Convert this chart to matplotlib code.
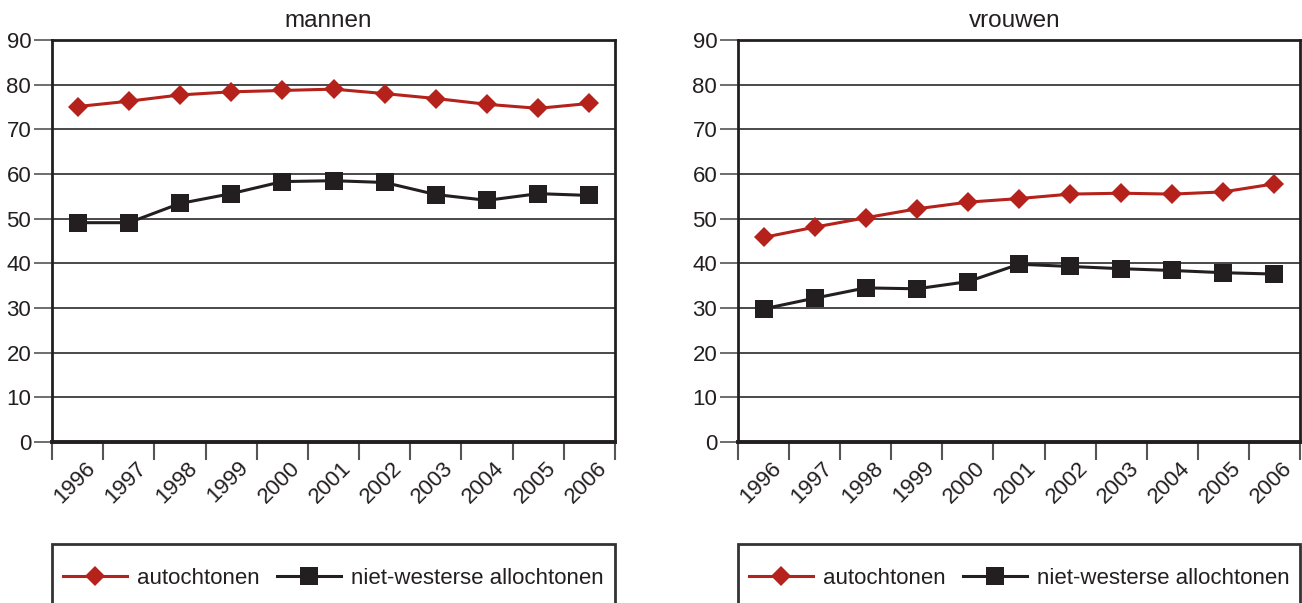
import matplotlib
matplotlib.use("Agg")
import matplotlib.pyplot as plt
from matplotlib.patches import Rectangle
import matplotlib.transforms as mtransforms

plt.rcParams['font.family'] = ['Liberation Sans', 'DejaVu Sans']

years = ['1996', '1997', '1998', '1999', '2000', '2001', '2002', '2003', '2004', '2005', '2006']
mannen_autochtonen = [75.1, 76.3, 77.7, 78.4, 78.7, 79.0, 78.0, 76.9, 75.6, 74.7, 75.8]
mannen_nietwesters = [49.1, 49.1, 53.4, 55.6, 58.3, 58.5, 58.1, 55.4, 54.1, 55.6, 55.2]
vrouwen_autochtonen = [45.8, 48.1, 50.2, 52.2, 53.7, 54.5, 55.5, 55.7, 55.5, 56.0, 57.8]
vrouwen_nietwesters = [29.8, 32.2, 34.5, 34.3, 35.9, 39.8, 39.3, 38.8, 38.4, 37.9, 37.6]
titles = ['mannen', 'vrouwen']
series_names = ['autochtonen', 'niet-westerse allochtonen']
yticks = [0, 10, 20, 30, 40, 50, 60, 70, 80, 90]

W, H = 1302, 603
DPI = 100
fig = plt.figure(figsize=(W / DPI, H / DPI), dpi=DPI)

RED = '#b5211b'
BLACK = '#231f20'
GRID = '#3a3a3a'

panels = [
    (titles[0], mannen_autochtonen, mannen_nietwesters, 52, 615, 328),
    (titles[1], vrouwen_autochtonen, vrouwen_nietwesters, 738, 1300, 1015),
]
top_px, bot_px = 40, 442

for title, auto, niet, lx, rx, tx in panels:
    ax = fig.add_axes([lx / W, (H - bot_px) / H, (rx - lx) / W, (bot_px - top_px) / H])
    n = len(years)
    xs = list(range(n))
    ax.set_xlim(-0.5, n - 0.5)
    ax.set_ylim(0, 90)
    for v in yticks[1:-1]:
        ax.axhline(v, color=GRID, lw=1.3, zorder=1)
    la, = ax.plot(xs, auto, color=RED, lw=2.2, marker='D', markersize=10,
                  markeredgewidth=0, zorder=3, label=series_names[0])
    ln, = ax.plot(xs, niet, color=BLACK, lw=2.2, marker='s', markersize=12.5,
                  markeredgewidth=0, zorder=3, label=series_names[1])
    for s in ['left', 'right', 'top']:
        ax.spines[s].set_color(BLACK)
        ax.spines[s].set_linewidth(2.0)
    ax.spines['bottom'].set_color(BLACK)
    ax.spines['bottom'].set_linewidth(2.8)
    ax.set_yticks(yticks)
    ax.set_yticklabels([str(v) for v in yticks], fontsize=16, color=BLACK)
    ax.tick_params(axis='y', length=13, width=1.2, color='#555555', pad=2)
    # category boundary ticks
    ax.set_xticks([i - 0.5 for i in range(n + 1)], minor=True)
    ax.tick_params(axis='x', which='minor', length=13, width=1.5, color='#555555', direction='out')
    ax.set_xticks(xs)
    ax.set_xticklabels(years, fontsize=16, color=BLACK, rotation=45,
                       ha='right', va='top', rotation_mode='anchor')
    ax.tick_params(axis='x', which='major', length=0, pad=11)
    offset = mtransforms.ScaledTranslation(7 / DPI, 0, fig.dpi_scale_trans)
    for lab in ax.get_xticklabels():
        lab.set_transform(lab.get_transform() + offset)
    fig.text(tx / W, 1 - 21 / H, title, ha='center', va='center',
             fontsize=17.5, color=BLACK)
    # legend box
    box = Rectangle((lx / W, -0.05), (rx - lx) / W, (H - 544) / H + 0.05,
                    transform=fig.transFigure, fill=False, edgecolor='#333333',
                    lw=2.0, clip_on=False)
    fig.patches.append(box)
    fig.legend(handles=[la, ln], labels=series_names, loc='center left',
               bbox_to_anchor=((lx + 11) / W, 1 - 578 / H), ncol=2,
               frameon=False, fontsize=16, handlelength=2.9, handletextpad=0.45,
               columnspacing=0.75, borderpad=0, borderaxespad=0,
               labelcolor=BLACK)

fig.savefig('out.png', dpi=DPI)
